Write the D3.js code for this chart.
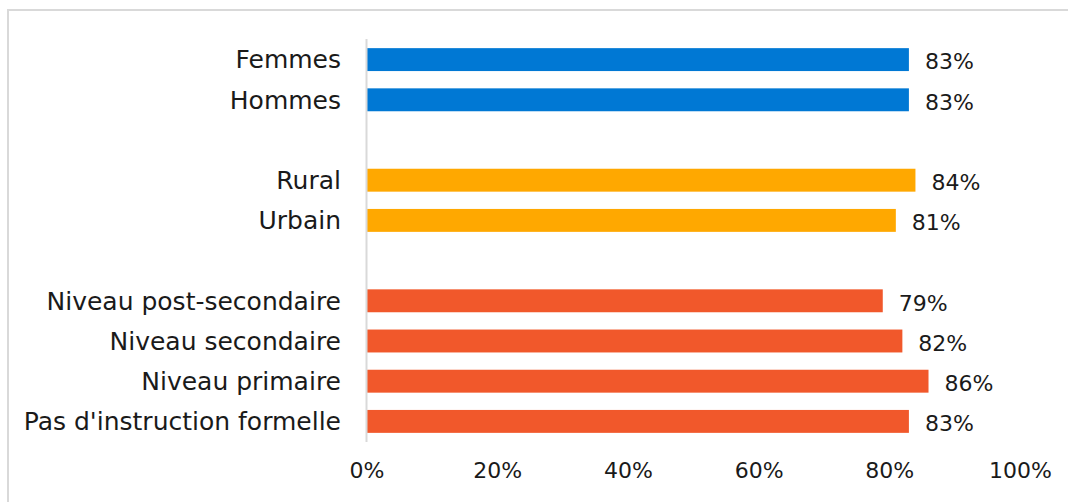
<!DOCTYPE html>
<html>
<head>
<meta charset="utf-8">
<script src="https://cdn.jsdelivr.net/npm/d3@7"></script>
<style>
  body { margin: 0; background: #fff; }
  text { font-family: "DejaVu Sans", sans-serif; fill: #1a1a1a; }
</style>
</head>
<body>
<script>
const width = 1068;
const height = 502;

// rows, top to bottom ("" marks an empty slot between groups)
const categories = ["Femmes", "Hommes", "", "Rural", "Urbain", "", "Niveau post-secondaire", "Niveau secondaire", "Niveau primaire", "Pas d'instruction formelle"];
const values = [83, 83, null, 84, 81, null, 79, 82, 86, 83];
const groups = ["sexe", "sexe", null, "milieu", "milieu", null, "instr", "instr", "instr", "instr"];
const ticks = [0, 20, 40, 60, 80, 100];

const colors = { sexe: "#0078d4", milieu: "#ffa800", instr: "#f1582b" };

const rows = categories.map((c, i) => ({ key: c || "gap" + i, label: c, value: values[i], group: groups[i] }));

const svg = d3.select("body").append("svg")
  .attr("width", width)
  .attr("height", height);

// chart frame
svg.append("rect")
  .attr("x", 8).attr("y", 10)
  .attr("width", width + 10).attr("height", height + 10)
  .attr("fill", "none")
  .attr("stroke", "#d9d9d9")
  .attr("stroke-width", 2);

const xScale = d3.scaleLinear().domain([0, 100]).range([366.5, 1020]);
const yScale = d3.scaleBand()
  .domain(rows.map(d => d.key))
  .range([39.5, 441.5])
  .paddingInner(0.43)
  .paddingOuter(0.215);

const bars = rows.filter(d => d.value !== null);

svg.append("g")
  .selectAll("rect")
  .data(bars)
  .enter()
  .append("rect")
  .attr("x", xScale(0))
  .attr("y", d => yScale(d.key))
  .attr("width", d => xScale(d.value) - xScale(0))
  .attr("height", yScale.bandwidth())
  .attr("fill", d => colors[d.group]);

// vertical axis line
svg.append("line")
  .attr("x1", xScale(0)).attr("x2", xScale(0))
  .attr("y1", 39).attr("y2", 442)
  .attr("stroke", "#d9d9d9")
  .attr("stroke-width", 2);

// category labels
svg.append("g")
  .selectAll("text")
  .data(bars)
  .enter()
  .append("text")
  .attr("x", 341)
  .attr("y", d => yScale(d.key) + yScale.bandwidth() / 2)
  .attr("dy", "0.35em")
  .attr("text-anchor", "end")
  .style("font-size", "25px")
  .text(d => d.label);

// value labels
svg.append("g")
  .selectAll("text")
  .data(bars)
  .enter()
  .append("text")
  .attr("x", d => xScale(d.value) + 16)
  .attr("y", d => yScale(d.key) + yScale.bandwidth() / 2 + 2)
  .attr("dy", "0.35em")
  .style("font-size", "22px")
  .text(d => d.value + "%");

// x axis tick labels
const xAxis = d3.axisBottom(xScale)
  .tickValues(ticks)
  .tickFormat(d => d + "%")
  .tickSize(0)
  .tickPadding(0);

const gx = svg.append("g")
  .attr("transform", "translate(0,462)")
  .call(xAxis);
gx.select(".domain").remove();
gx.selectAll("text")
  .attr("dy", "0.71em")
  .style("font-family", "DejaVu Sans, sans-serif")
  .style("font-size", "22px")
  .attr("fill", "#1a1a1a");
</script>
</body>
</html>
